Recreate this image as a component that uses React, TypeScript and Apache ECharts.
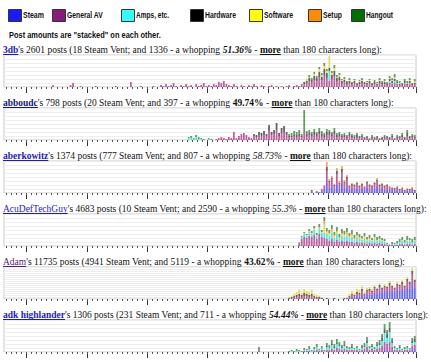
import React, { useEffect, useRef } from 'react';
import * as echarts from 'echarts';

// ---------- legend / series ----------
const SERIES_NAMES = ['Steam', 'General AV', 'Amps, etc.', 'Hardware', 'Software', 'Setup', 'Hangout'];
const SERIES_COLORS = ['#1a1aff', '#8b1a7e', '#33ffff', '#000000', '#ffff00', '#ff8c00', '#006e00'];
const BAR_COLORS = ['#3030f0', '#a3287f', '#2ad8d8', '#2a2a2a', '#e0d020', '#f08c20', '#2a7a2a'];
const LEGEND_BOX_X = [8, 52, 121, 190, 249, 308, 351];
const LEGEND_TEXT_X = [23, 67, 136, 205, 264, 323, 366];
const LEGEND_TEXT_END = [44, 103, 169, 236, 293, 342, 393];
const NOTE_TEXT = 'Post amounts are "stacked" on each other.';
const NOTE_X = [9, 161];

// ---------- time bins (half months, bin 0 = 2nd half of Aug 2003) ----------
const BIN_COUNT = 164;
const CATEGORIES: string[] = [];
for (let i = 0; i < BIN_COUNT; i++) {
  const mi = 2003 * 12 + 7 + Math.floor((i + 1) / 2);
  const y = Math.floor(mi / 12);
  const m = (mi % 12) + 1;
  CATEGORIES.push(`${y}-${m < 10 ? '0' + m : m} ${i % 2 === 1 ? 'H1' : 'H2'}`);
}

// ---------- titles ----------
const USER_NAMES = ['3db', 'abboudc', 'aberkowitz', 'AcuDefTechGuy', 'Adam', 'adk highlander'];
const POST_TOTALS = [2601, 798, 1374, 4683, 11735, 1306];
const STEAM_VENT = [18, 20, 777, 10, 4941, 231];
const LONG_POSTS = [1336, 397, 807, 2590, 5119, 711];
const LONG_PCT = ['51.36%', '49.74%', '58.73%', '55.3%', '43.62%', '54.44%'];
const PCT_BOLD = [true, true, false, false, true, true];
const PCT_ITALIC = [true, false, true, true, false, true];
const LINK_BOLD = [true, true, true, false, false, true];
const LINK_COLORS = ['#1b1bc4', '#15158a', '#1b1bc4', '#1b1bc4', '#54207e', '#1b1bc4'];
const TITLE1_END_X = 382;

// ---------- panel 1: 3db ----------
const p1GenAV = [
  0,2,0,0,0,0,0,0,2,4, 0,0,1,0,0,0,0,0,1,0, 0,0,0,0,0,0,1,0,0,0, 0,0,5,0,0,0,1,0,0,0,
  0,1,0,0,2,1,3,1,2,4, 1,0,2,1,3,1,2,0,3,1, 2,4,1,2,1,3,2,5,4,6, 3,2,1,3,1,0,2,1,0,2,
  1,3,1,0,2,1,0,1,2,0, 1,0,1,0,1,2,0,1,2,1, 3,
  3,4,6,5,7,6,10,7,12,9, 6,8,11,6,7,4,5,3,4,3, 4,2,3,4,3,3,4,2,3,2, 4,3,3,2,4,3,4,3,2,2, 3,2,3,2,3,
];
const p1Hardware = [2,2,3,2,4,3,5,3,6,5, 3,4,5,3,3,2,2,2,2,1, 2,1,2,2,1,1,2,1,2,1, 2,1,2,1,2,2,2,1,1,1, 2,1,2,1,1];
const p1Software = [2,1,0,2,0,3,2,3,2,12, 2,3,1,2,1,1,0,1,0,1, 0,1,1,0,1,1,0,0,1,1, 0,1,0,1,1,1,0,1,0,0, 0,1,0,1];
const p1Hangout = [2,2,2,2,2,2,3,2,0, 2,3,2,2,1,2,1,2,1,1, 1,1,2,1,1,1,1,2,1,2, 2,2,2,2,2,3,2,2,1,2, 2,2,1,2];
const p1Amps = [10, 0,0,0,0,0,0,0,0,0,0, 0,0,0,0,0,0,0,0,0,0, 0,0,0, 2,1,2,1,0,0,1,0,1];
const p1Setup = [1,0,0,0,0,1,0,0,1];

// ---------- panel 2: abboudc ----------
const p2Amps = [2,2,1,3,1,1,0,0,1,0];
const p2HangoutEarly = [1,2,1,2,2,1,1,0,1,1];
const p2GenAV = [
  0,1,2,3,2,1,3,2,8,2, 4,6,7,5,3,2,4,3,5,4, 5,4,9,5,6,10,4,7,8,5, 3,3,4,3,4,3,8,4,5,4,
  5,4,6,4,3,5,5,4,6,3, 4,3,3,2,4,3,2,3,2,3, 1,2,1,2,1,2,1,1,2,2, 1,3,1,2,2,3,1,4,2,3,2,
];
const p2Hardware = [
  2,2,3,3, 4,2,6,3,4,7,3,5,6,3, 1,1,1,2,2,1,0,2,2,2, 3,2,3,2,2,3,3,2,3,2,
  2,1,2,1,2,1,1,2,1,1, 1,1,0,1,1,1,0,1,1,1, 1,1,0,1,1,2,1,3,1,1,1,
];
const p2Hangout = [
  2,3,4,3,4,2,22,3,3,2, 3,2,3,3,2,3,2,2,3,2, 2,2,2,2,2,2,2,2,1,2, 1,1,1,2,1,1,1,1,2,1, 1,2,1,2,1,2,1,3,1,2,2,
];

// ---------- panel 3: aberkowitz ----------
const p3GenAV = [2,0,1,1,3,4,12,6,8, 4,11,5,12,6,8,3,4,4,5, 3,4,3,5,4,3,5,6,4,4, 3,4,3,2,2,3,2,2,1,2, 2,2,1];
const p3Steam = [0,1,0,1,3,10,5,6, 3,8,4,9,4,6,3,4,3,4, 3,4,3,5,3,3,4,6,3,4, 3,3,3,3,2,3,1,3,1,2, 1,3,1];
const p3Setup = [1,5,2,2, 1,3,2,3,2,2,1,1,1,1, 1,1,1,1,1,1,1,2,1,1, 1,1,1,1,0,1,0,1,0,1, 0,1,0];
const p3Hardware = [1,0,0,0,0,0,4,1,1, 1,3,1,3,1,2,1,1,1,1, 1,1,0,1,1,1,1,1,1,1, 1,1,0,0,1,0,1,0,1,0, 1,0,1];

// ---------- panel 4: AcuDefTechGuy ----------
const p4GenAV = [3,7,9,8,10,9,11,7,12,9, 8,7,5,7,4,6,4,5,4,5, 4,4,3,4,3,3,3,2,3,2, 3,2,3,2,2,1,1,1,1,1, 2,2,1,2,2,1,2];
const p4Amps = [1,2,3,2,4,3,5,3,5,4, 5,5,5,6,4,6,3,5,5,5, 4,5,3,4,4,3,4,3,3,3, 4,3,3,3,2,1,1,1,1,2, 2,3,2,3,3,2,3];
const p4Hangout = [1,1,1,2,2,2,2,3,2, 4,3,3,4,3,4,3,4,3,4, 3,4,3,3,3,2,3,2,3,2, 3,3,3,2,2,1,0,2,1,2, 3,3,2,4,2,3,3];
const p4Software = [1,1,1,1,1,1,1,1, 8,2,2,2,2,2,1,2,2,2, 1,2,1,2,1,1,2,1,1,1, 1,1,1,1,1,0,0,0,0,0, 0,1,0,1,1,0,1];
const p4Setup = [1,0,1,0, 4,1,1,2,1,1,1,1,1,2, 1,1,1,1,1,1,1,1,1,0, 1,0,0,0,0,0,0,0,0,0, 0,0,1,0,0,1,0];

// ---------- panel 5: Adam ----------
const p5Software = [1,1,2,3,4,2,4,3,3,4, 2,2,1,1, 0,0,0,0,0,0,0,0,0,1, 2,3,2,3,3,3,2,2,2,2, 2,1,2,1,2,1,2,1,1,2, 1,2,1,2,1,3,1];
const p5Hardware = [1,1,1,2,2,2,3,2,2,2, 1,1,1,1, 0,1,0,0,1,0,0,0,1,0, 1,1,1,2,1,2,1,1,2,1, 1,1,2,1,1,1,2,1,1,1, 1,2,1,2,2,3,2];
const p5GenAV = [0,1,2,2,3,2,3,3,2,3, 2,1,1,0, 0,0,0,0,0,0,0,0,0,1, 1,2,2,3,3,4,2,4,4,3, 5,4,5,4,5,4,6,5,4,5, 5,6,4,7,5,9,6];
const p5Steam = [1,2,1,2,2,4,2,4,4,4, 6,5,7,6,7,7,8,7,6,9, 8,9,8,11,10,16,11];

// ---------- panel 6: adk highlander ----------
const p6Hangout = [
  3,0,0,0,0,0,0,0,0,0, 0,0,1,1,1,2,1,1,2,1, 3,1,2,3,1,2,1,3,3,4, 3,4,3,2,4,2,2,3,1,2,
  1,2,3,4,2,2,2,3,3,4, 5,4,6,3,2,1,2,1,2,2, 1,3,3,
];
const p6Amps = [0,1,0,1,1,0,1,1, 2,1,2,3,1,2,1,3,2,4, 2,4,3,2,3,2,1,2,1,2, 1,2,2,4,2,2,1,3,3,5, 9,6,10,4,2,1,2,1,1,2, 1,3,3];
const p6GenAVEarly = [2];
const p6GenAV = [1,1, 1,0,1,2,1,2,0,2,2,3, 2,4,3,2,3,2,2,2,2,2, 1,2,3,5,2,3,2,3,4,6, 7,8,8,5,2,2,2,1,2,2, 2,4,4];
const p6Hardware = [1,0,1,1,1,1,1,1,0,0, 1,0,0,0,1,1,2,0,1,0, 1,2,3,4,4,4,2,0,0,1, 0,0,0,0,2,3];
const p6Steam = [3,0,2,0,0,0,0,0,0,0,0,2,3];

// series index: 0 Steam, 1 General AV, 2 Amps, 3 Hardware, 4 Software, 5 Setup, 6 Hangout
type Entry = { s: number; from: number; values: number[] };
const PANELS: Entry[][] = [
  [
    { s: 1, from: 18, values: p1GenAV },
    { s: 3, from: 119, values: p1Hardware },
    { s: 4, from: 120, values: p1Software },
    { s: 6, from: 121, values: p1Hangout },
    { s: 2, from: 129, values: p1Amps },
    { s: 5, from: 155, values: p1Setup },
  ],
  [
    { s: 2, from: 73, values: p2Amps },
    { s: 6, from: 73, values: p2HangoutEarly },
    { s: 1, from: 83, values: p2GenAV },
    { s: 3, from: 99, values: p2Hardware },
    { s: 6, from: 113, values: p2Hangout },
  ],
  [
    { s: 1, from: 122, values: p3GenAV },
    { s: 0, from: 123, values: p3Steam },
    { s: 5, from: 127, values: p3Setup },
    { s: 3, from: 122, values: p3Hardware },
  ],
  [
    { s: 1, from: 117, values: p4GenAV },
    { s: 2, from: 117, values: p4Amps },
    { s: 6, from: 118, values: p4Hangout },
    { s: 4, from: 119, values: p4Software },
    { s: 5, from: 123, values: p4Setup },
  ],
  [
    { s: 4, from: 113, values: p5Software },
    { s: 3, from: 113, values: p5Hardware },
    { s: 1, from: 113, values: p5GenAV },
    { s: 0, from: 137, values: p5Steam },
  ],
  [
    { s: 6, from: 101, values: p6Hangout },
    { s: 2, from: 113, values: p6Amps },
    { s: 1, from: 101, values: p6GenAVEarly },
    { s: 1, from: 119, values: p6GenAV },
    { s: 3, from: 128, values: p6Hardware },
    { s: 0, from: 151, values: p6Steam },
  ],
];
const Y_MAX = [32, 32, 32, 32, 32, 32];
const Y_SPLIT = [4, 4, 4, 4, 2, 4];

const SERIF = '"Liberation Serif", "Times New Roman", serif';
const SANS = '"Liberation Sans", Arial, sans-serif';
const TITLE_SIZE = 10.5;

function buildOption() {
  const ctx = document.createElement('canvas').getContext('2d')!;
  const measure = (t: string, font: string) => {
    ctx.font = font;
    return ctx.measureText(t).width;
  };
  const fontStr = (bold: boolean, italic: boolean) =>
    `${italic ? 'italic ' : ''}${bold ? 'bold ' : ''}${TITLE_SIZE}px ${SERIF}`;

  const grid: any[] = [];
  const xAxis: any[] = [];
  const yAxis: any[] = [];
  const series: any[] = [];
  const graphics: any[] = [];

  // legend
  const legendFont = `bold 9px ${SANS}`;
  SERIES_NAMES.forEach((name, i) => {
    graphics.push({
      type: 'rect',
      shape: { x: LEGEND_BOX_X[i] + 0.5, y: 9.5, width: 13, height: 12 },
      style: { fill: SERIES_COLORS[i], stroke: '#333', lineWidth: 1 },
    });
    const w = measure(name, legendFont);
    graphics.push({
      type: 'text',
      x: LEGEND_TEXT_X[i],
      y: 15.5,
      scaleX: (LEGEND_TEXT_END[i] - LEGEND_TEXT_X[i]) / w,
      style: { text: name, font: legendFont, fill: '#111', textVerticalAlign: 'middle' },
    });
  });
  const noteFont = `bold 9px ${SANS}`;
  graphics.push({
    type: 'text',
    x: NOTE_X[0],
    y: 35.5,
    scaleX: (NOTE_X[1] - NOTE_X[0]) / measure(NOTE_TEXT, noteFont),
    style: { text: NOTE_TEXT, font: noteFont, fill: '#111', textVerticalAlign: 'middle' },
  });

  const segsFor = (k: number) => [
    { text: USER_NAMES[k], bold: LINK_BOLD[k], italic: false, color: LINK_COLORS[k], underline: true },
    { text: `'s ${POST_TOTALS[k]} posts (${STEAM_VENT[k]} Steam Vent; and ${LONG_POSTS[k]} - a whopping `, bold: false, italic: false, color: '#111', underline: false },
    { text: LONG_PCT[k], bold: PCT_BOLD[k], italic: PCT_ITALIC[k], color: '#111', underline: false },
    { text: ' - ', bold: false, italic: false, color: '#111', underline: false },
    { text: 'more', bold: true, italic: false, color: '#111', underline: true },
    { text: ' than 180 characters long):', bold: false, italic: false, color: '#111', underline: false },
  ];
  const title1Width = segsFor(0).reduce((a, sg) => a + measure(sg.text, fontStr(sg.bold, sg.italic)), 0);
  const titleScale = (TITLE1_END_X - 3) / title1Width;

  PANELS.forEach((entries, k) => {
    const top = 55 + 53 * k;
    grid.push({
      left: 4, top, width: 412, height: 32, show: true,
      borderColor: '#c8c8c8', borderWidth: 1, backgroundColor: '#fff',
      containLabel: false, outerBoundsMode: 'none',
    });
    yAxis.push({
      gridIndex: k, type: 'value', min: 0, max: Y_MAX[k], interval: Y_SPLIT[k],
      axisLabel: { show: false }, axisLine: { show: false }, axisTick: { show: false },
      splitLine: { show: true, lineStyle: { color: '#eeeeee', width: 1 } },
    });
    xAxis.push({
      gridIndex: k, type: 'category', data: CATEGORIES, position: 'bottom', offset: 3,
      axisLine: { show: false }, axisLabel: { show: false }, splitLine: { show: false },
      axisTick: { show: true, length: 2, interval: (i: number) => i % 2 === 1, lineStyle: { color: '#555', width: 1 } },
    });
    xAxis.push({
      gridIndex: k, type: 'category', data: CATEGORIES, position: 'bottom', offset: 2,
      axisLine: { show: false }, axisLabel: { show: false }, splitLine: { show: false },
      axisTick: { show: true, length: 4, interval: (i: number) => i % 24 === 9, lineStyle: { color: '#333', width: 1 } },
    });

    const data: number[][] = SERIES_NAMES.map(() => new Array(BIN_COUNT).fill(0));
    entries.forEach((e) => {
      e.values.forEach((v, j) => {
        data[e.s][e.from + j] += v;
      });
    });
    SERIES_NAMES.forEach((name, s) => {
      series.push({
        type: 'bar', name, xAxisIndex: 2 * k, yAxisIndex: k, stack: 'p' + k,
        barWidth: 1.8, silent: true, data: data[s],
        itemStyle: { color: BAR_COLORS[s], opacity: 0.72 },
      });
    });

    // title line
    const yMid = top - 5.5;
    let x = 3;
    segsFor(k).forEach((sg) => {
      const font = fontStr(sg.bold, sg.italic);
      const w = measure(sg.text, font) * titleScale;
      graphics.push({
        type: 'text', x, y: yMid, scaleX: titleScale,
        style: { text: sg.text, font, fill: sg.color, textVerticalAlign: 'middle' },
      });
      if (sg.underline) {
        const uy = Math.round(yMid + 4) + 0.5;
        graphics.push({
          type: 'line', shape: { x1: x, y1: uy, x2: x + w, y2: uy },
          style: { stroke: sg.color, lineWidth: 1 },
        });
      }
      x += w;
    });
  });

  return {
    animation: false,
    backgroundColor: '#fff',
    grid, xAxis, yAxis, series,
    graphic: { elements: graphics },
  };
}

export default function App() {
  const ref = useRef<HTMLDivElement>(null);
  useEffect(() => {
    document.body.style.margin = '0';
    if (!ref.current) return;
    const chart = echarts.init(ref.current, null, { renderer: 'svg' });
    chart.setOption(buildOption() as any);
    return () => chart.dispose();
  }, []);
  return <div ref={ref} style={{ width: 431, height: 362 }} />;
}
